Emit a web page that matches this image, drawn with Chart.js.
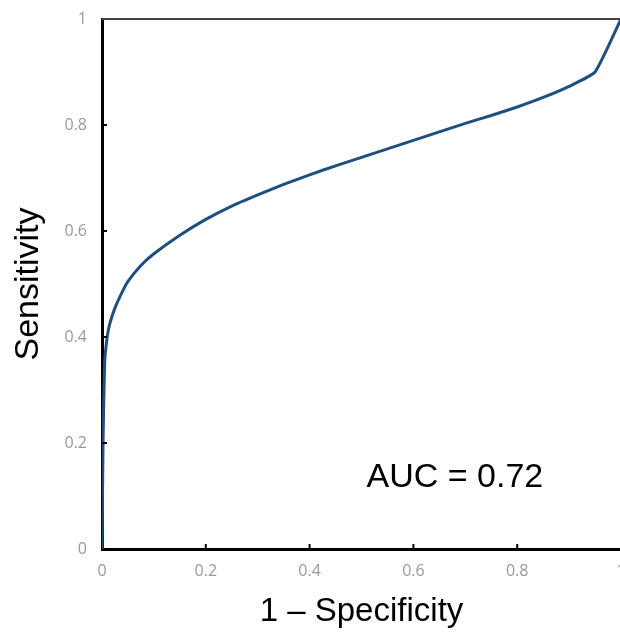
<!DOCTYPE html>
<html>
<head>
<meta charset="utf-8">
<script src="https://cdn.jsdelivr.net/npm/chart.js@4/dist/chart.umd.min.js"></script>
<style>
  html, body { margin: 0; padding: 0; background: #fff; overflow: hidden; }
  #wrap { width: 640px; height: 636px; }
</style>
</head>
<body>
<div id="wrap"><canvas id="roc-chart" width="640" height="636"></canvas></div>
<script>
// ROC curve
const fpr = [0, 0.002, 0.005, 0.01, 0.015, 0.025, 0.04, 0.05, 0.075, 0.1, 0.15, 0.2, 0.25, 0.3, 0.35, 0.4, 0.45, 0.5, 0.55, 0.6, 0.65, 0.7, 0.75, 0.8, 0.85, 0.9, 0.95, 1.0];
const tpr = [0, 0.2, 0.35, 0.40, 0.425, 0.455, 0.487, 0.505, 0.535, 0.557, 0.592, 0.622, 0.647, 0.668, 0.688, 0.706, 0.723, 0.739, 0.755, 0.771, 0.787, 0.803, 0.818, 0.834, 0.852, 0.873, 0.900, 1.0];
const xTicks = [0, 0.2, 0.4, 0.6, 0.8, 1];
const yTicks = [0, 0.2, 0.4, 0.6, 0.8, 1];
const aucLabel = 'AUC = 0.72';

const ctx = document.getElementById('roc-chart').getContext('2d');

// inward tick marks, top frame line and AUC text
const extras = {
    id: 'extras',
    afterDatasetsDraw(chart) {
        const c = chart.ctx;
        const xs = chart.scales.x, ys = chart.scales.y;
        const area = chart.chartArea;
        c.save();
        c.strokeStyle = '#000';
        c.lineWidth = 2;
        xTicks.slice(1, -1).forEach(v => {
            const px = xs.getPixelForValue(v);
            c.beginPath();
            c.moveTo(px, area.bottom);
            c.lineTo(px, area.bottom - 5);
            c.stroke();
        });
        yTicks.slice(1, -1).forEach(v => {
            const py = ys.getPixelForValue(v);
            c.beginPath();
            c.moveTo(area.left, py);
            c.lineTo(area.left + 5, py);
            c.stroke();
        });
        c.strokeStyle = '#444';
        c.lineWidth = 2;
        c.beginPath();
        c.moveTo(area.left, area.top);
        c.lineTo(area.right, area.top);
        c.stroke();

        c.fillStyle = '#000';
        c.font = '34px "Liberation Sans", Arial, sans-serif';
        c.textAlign = 'center';
        c.textBaseline = 'alphabetic';
        c.fillText(aucLabel, xs.getPixelForValue(0.68), ys.getPixelForValue(0.117));
        c.restore();
    }
};

new Chart(ctx, {
    type: 'line',
    data: {
        datasets: [{
            data: fpr.map((x, i) => ({ x: x, y: tpr[i] })),
            borderColor: '#1f4f7f',
            borderWidth: 3,
            pointRadius: 0,
            tension: 0.15,
            fill: false
        }]
    },
    options: {
        responsive: false,
        animation: false,
        layout: { padding: { top: 19, right: 19, left: 0, bottom: 0 } },
        plugins: { legend: { display: false }, tooltip: { enabled: false } },
        scales: {
            x: {
                type: 'linear',
                min: 0,
                max: 1,
                afterBuildTicks: s => { s.ticks = xTicks.map(v => ({ value: v })); },
                afterFit: s => { s.height = 87; s.paddingLeft = 0; s.paddingRight = 0; },
                border: { color: '#000', width: 3 },
                grid: { display: false, drawTicks: false },
                ticks: {
                    padding: 13,
                    color: '#999',
                    font: { family: '"Open Sans", sans-serif', size: 16 },
                    maxRotation: 0,
                    callback: v => String(v)
                },
                title: {
                    display: true,
                    text: '1 – Specificity',
                    color: '#000',
                    font: { family: '"Liberation Sans", Arial, sans-serif', size: 33 },
                    padding: { top: 0, bottom: 4 }
                }
            },
            y: {
                type: 'linear',
                min: 0,
                max: 1,
                afterBuildTicks: s => { s.ticks = yTicks.map(v => ({ value: v })); },
                afterFit: s => { s.width = 102; s.paddingTop = 0; s.paddingBottom = 0; },
                border: { color: '#000', width: 3 },
                grid: { display: false, drawTicks: false },
                ticks: {
                    padding: 15,
                    color: '#999',
                    font: { family: '"Open Sans", sans-serif', size: 16 },
                    callback: v => String(v)
                },
                title: {
                    display: true,
                    text: 'Sensitivity',
                    color: '#000',
                    font: { family: '"Liberation Sans", Arial, sans-serif', size: 34 },
                    padding: { top: 8, bottom: 0 }
                }
            }
        }
    },
    plugins: [extras]
});
</script>
</body>
</html>
